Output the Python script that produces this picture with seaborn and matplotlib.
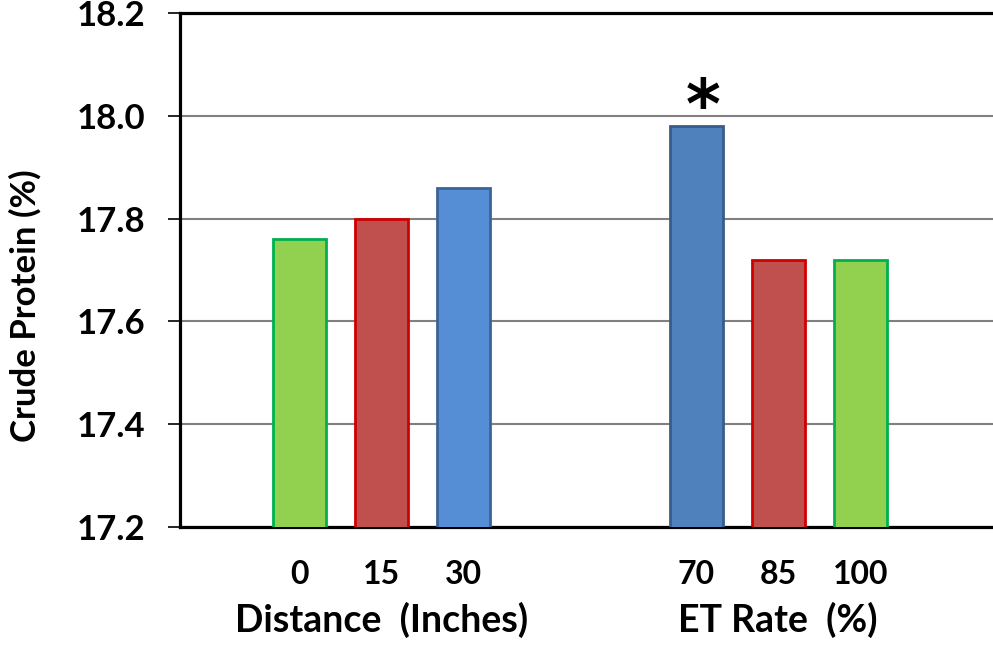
import numpy as np
import pandas as pd
import seaborn as sns
import matplotlib.pyplot as plt
from matplotlib import transforms

# data
distance_labels = ["0", "15", "30"]
distance_cp = [17.76, 17.80, 17.86]
et_labels = ["70", "85", "100"]
et_cp = [17.98, 17.72, 17.72]
group_titles = ["Distance  (Inches)", "ET Rate  (%)"]

fills = ["#92D050", "#C0504D", "#558ED5", "#4F81BD", "#C0504D", "#92D050"]
edges = ["#00B050", "#D00000", "#3A6496", "#385D8A", "#D00000", "#00B050"]

sns.set_theme(style="white")
plt.rcParams['font.family'] = ['Lato', 'DejaVu Sans']
plt.rcParams['text.color'] = 'black'
plt.rcParams['axes.labelcolor'] = 'black'
plt.rcParams['xtick.color'] = 'black'
plt.rcParams['ytick.color'] = 'black'

# x positions: two groups of three bars, second group shifted
group_gap = 2.84
pos = list(np.arange(3)) + list(np.arange(3) + 2 + group_gap)
labels = distance_labels + et_labels
df = pd.DataFrame({"pos": pos, "label": labels, "cp": distance_cp + et_cp})

fig = plt.figure(figsize=(9.93, 6.46), dpi=100)
ax = fig.add_axes([180 / 993, 119 / 646, 1 - 180 / 993, 514 / 646])

sns.barplot(data=df, x="pos", y="cp", hue="label", hue_order=labels,
            palette=fills, saturation=1, native_scale=True, width=0.65,
            legend=False, ax=ax, zorder=3)
for p, ec in zip(ax.patches, edges):
    p.set_edgecolor(ec)
    p.set_linewidth(2.0)

ax.set_ylim(17.2, 18.2)
ax.set_xlim(-1.457, 8.46)
ax.set_yticks([17.2, 17.4, 17.6, 17.8, 18.0, 18.2])
ax.set_yticklabels(["17.2", "17.4", "17.6", "17.8", "18.0", "18.2"],
                   fontsize=25, fontweight="bold")
ax.set_xticks(pos)
ax.set_xticklabels(labels, fontsize=23, fontweight="bold")
ax.tick_params(axis="x", length=0, pad=24)
ax.tick_params(axis="y", direction="out", length=9, width=1.2,
               color="black", left=True, pad=16)

ax.yaxis.grid(True, color="#808080", linewidth=1.5, zorder=0)
ax.set_axisbelow(True)

for side in ["left", "top", "bottom"]:
    ax.spines[side].set_visible(True)
    ax.spines[side].set_color("black")
    ax.spines[side].set_linewidth(2.3)
ax.spines["right"].set_visible(False)

ax.set_xlabel("")
ax.set_ylabel("Crude Protein (%)", fontsize=25, fontweight="bold")
ax.yaxis.set_label_coords(-0.170, 0.43)

# group titles under the middle bar of each group
trans = transforms.blended_transform_factory(ax.transData, ax.transAxes)
ax.text(pos[1], -0.18, group_titles[0], transform=trans, ha="center",
        va="center", fontsize=27, fontweight="bold")
ax.text(pos[4], -0.18, group_titles[1], transform=trans, ha="center",
        va="center", fontsize=27, fontweight="bold")

# significance mark
ax.annotate("*", xy=(pos[3], 18.013), xytext=(5, 0),
            textcoords="offset points", ha="center", va="center",
            fontsize=48, fontweight="bold", family="DejaVu Sans")

fig.savefig("out.png", dpi=100)
